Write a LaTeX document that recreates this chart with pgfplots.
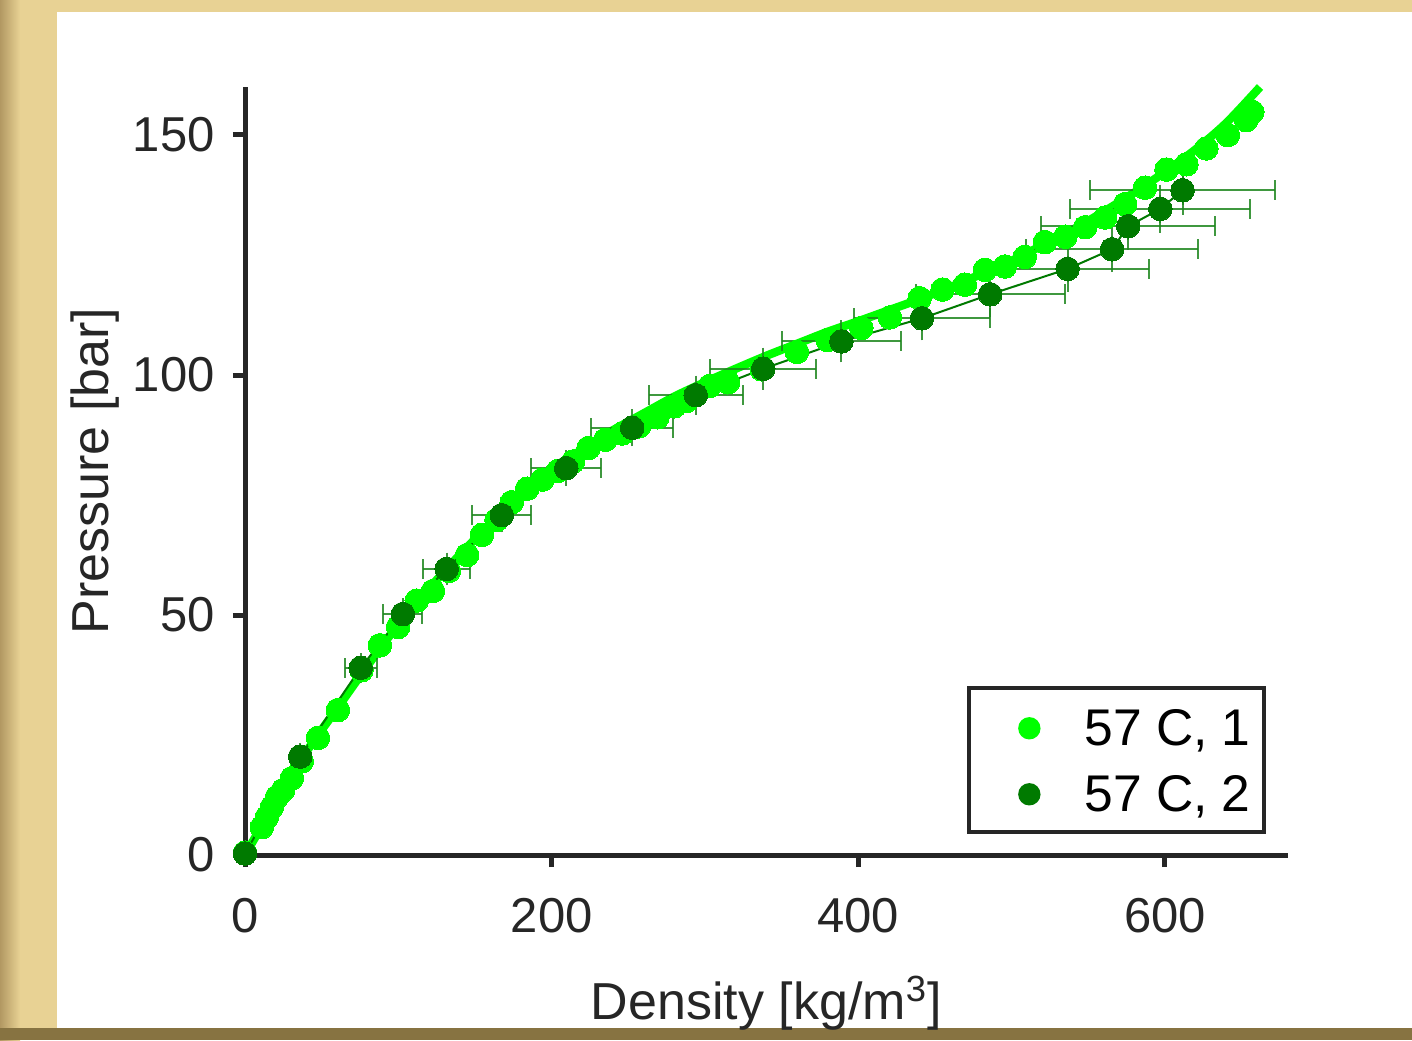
\documentclass[border=0pt]{standalone}
\usepackage{fontspec}
\setmainfont{Liberation Sans}
\usepackage{pgfplots}
\pgfplotsset{compat=1.18}
\definecolor{brightg}{RGB}{0,255,0}
\definecolor{darkg}{RGB}{0,122,0}
\definecolor{errg}{RGB}{30,135,30}
\definecolor{axgray}{RGB}{38,38,38}
\definecolor{frametan}{RGB}{232,210,148}
\definecolor{framedark}{RGB}{178,152,98}
\definecolor{framebrown}{RGB}{135,115,65}

\pgfplotstableread{
x y
0 0.5
11 5.8
14.3 7.9
17.6 10
20.9 12.1
24.8 13.5
30.6 16
37 19.5
47.6 24.4
60.6 30.2
76 38.5
88 43.7
99.8 47.5
112 53
122.6 55
133 59.2
144.8 62.5
154.5 66.7
164 69.8
174 73.5
184 76.3
194 78.2
204 80
214 82
224 84.8
235 86.5
246 87.8
257 89.3
269 91.2
280 93.5
288 94.6
303 97.7
315 98.5
337 101.2
360 104.8
380 107.3
402 109.8
420.6 112
440 116
455 117.8
469.5 118.8
482.6 121.9
495.6 122.6
508.6 124.6
521.7 127.7
535 128.8
548 130.8
561 132.8
574 135.6
587 139
601 142.8
614 143.9
627 147.2
641 150
653 153.1
657 154.8
}\seriesone

\pgfplotstableread{
x y
0 0
20 11
40 21.5
60 30.5
80 39.5
100 48
120 55.5
140 62.5
160 69
180 75
200 80
220 84.5
240 88.5
260 92
280 95.5
300 98.5
320 101.3
340 104
360 106.5
380 109
400 111.2
420 113.5
440 115.8
460 118.3
480 121
500 123.8
520 127
540 130.3
560 134
580 138
600 142.3
620 147
640 152.5
662 160
}\fitline

\pgfplotstableread{
x y ex ey
0 0.3 0 0.3
36 20.5 3 0.8
75.5 39 10.5 1
103 50.2 12.7 1.2
131.5 59.6 15.5 1.3
167.5 70.8 19.2 1.5
209.5 80.6 23 1.6
252.5 89 26.8 1.8
294 95.8 30.6 2
338 101.3 34.5 2.3
389 107 39 2.3
441.5 111.8 44.5 2.5
486 116.8 48.6 2.6
536.5 122.1 53 2.7
565.5 126.2 56 2.7
576 131 56.7 2.8
597 134.6 58.7 2.9
611.5 138.5 60.3 3
}\seriestwo

\begin{document}
\begin{tikzpicture}
\useasboundingbox (0,0) rectangle (706pt,520pt);
\fill[frametan] (0,0) rectangle (706pt,520pt);
\shade[left color=framedark,right color=frametan] (0,0) rectangle (10pt,520pt);
\fill[framebrown] (0,0) rectangle (706pt,6pt);
\fill[white] (28.5pt,6pt) rectangle (706pt,514pt);
\begin{axis}[
  at={(122.5pt,92.5pt)}, anchor=south west,
  scale only axis, width=521.3pt, height=384pt,
  xmin=0, xmax=680, ymin=0, ymax=160,
  axis lines=left,
  axis line style={-, line width=2.5pt, axgray},
  tick align=outside, major tick length=6pt,
  every tick/.style={line width=2.5pt, axgray},
  xtick={0,200,400,600}, ytick={0,50,100,150},
  minor tick num=0,
  /pgf/number format/assume math mode=true,
  ticklabel style={font=\fontsize{24.5}{29}\selectfont, text=axgray, inner sep=0pt},
  xticklabel style={anchor=north, yshift=-15.5pt},
  yticklabel style={anchor=east, xshift=-9pt},
  every axis x label/.style={at={(axis description cs:0.5,-0.214)}, anchor=base, font=\fontsize{26}{31}\selectfont, text=axgray},
  every axis y label/.style={at={(axis description cs:-0.131,0.5)}, anchor=base, rotate=90, font=\fontsize{26}{31}\selectfont, text=axgray},
  xlabel={Density [kg/m\textsuperscript{3}]},
  ylabel={Pressure [bar]},
  clip=false,
  legend cell align=left,
  legend style={at={(0.979,0.027)}, anchor=south east, draw=axgray, line width=2pt, fill=white,
    inner xsep=3pt, inner ysep=3pt, row sep=0pt,
    font=\fontsize{25.8}{31}\selectfont,
    nodes={inner xsep=3.5pt, inner ysep=4.25pt, text height=21.5pt, text depth=3pt}},
]
\addplot[brightg, only marks, mark=*, mark size=5.9pt, mark options={draw=brightg, fill=brightg, line width=0pt},
  legend image code/.code={\path[draw=none,fill=none] (-27pt,-6pt) rectangle (24pt,6pt); \fill[brightg,draw=none] (0pt,-0.5pt) circle (5.6pt);}]
  table[x=x,y=y]{\seriesone};
\addlegendentry{57 C, 1}
\addplot[brightg, line width=4.2pt, smooth, forget plot] table[x=x,y=y]{\fitline};
% horizontal error bars
\addplot[draw=none, mark=none, forget plot,
  error bars/.cd, x dir=both, x explicit,
  error bar style={errg, line width=1pt, opacity=0.85},
  error mark=|,
  error mark options={errg, mark size=5pt, line width=1pt, opacity=0.85}]
  table[x=x,y=y,x error=ex]{\seriestwo};
% vertical error bars
\addplot[draw=none, mark=none, forget plot,
  error bars/.cd, y dir=both, y explicit,
  error bar style={errg, line width=1pt, opacity=0.85},
  error mark=-,
  error mark options={errg, mark size=5pt, line width=1pt, opacity=0.85}]
  table[x=x,y=y,y error=ey]{\seriestwo};
\addplot[darkg, line width=1pt, mark=*, mark size=5.9pt, mark options={draw=darkg, fill=darkg, line width=0pt},
  legend image code/.code={\path[draw=none,fill=none] (-27pt,-6pt) rectangle (24pt,6pt); \fill[darkg,draw=none] (0pt,-0.5pt) circle (5.6pt);}]
  table[x=x,y=y]{\seriestwo};
\addlegendentry{57 C, 2}
\end{axis}
\end{tikzpicture}
\end{document}
